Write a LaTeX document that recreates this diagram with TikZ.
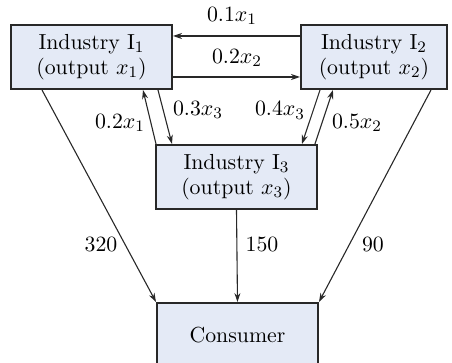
\documentclass[tikz,border=0pt]{standalone}
\usetikzlibrary{arrows.meta,calc}
\definecolor{boxfill}{RGB}{228,234,246}
\definecolor{boxline}{RGB}{40,40,40}
\newcommand{\vx}[1]{$x_{#1}$}
\begin{document}
\begin{tikzpicture}[x=0.5pt,y=-0.5pt,
  font=\fontsize{10.9}{12.5}\selectfont,
  ind/.style={draw=boxline,line width=1pt,fill=boxfill,align=center,
    minimum width=80.5pt,minimum height=32pt,inner sep=0pt},
  flow/.style={draw=boxline,line width=0.55pt,-{Stealth[length=4.5pt,width=3pt]}},
  lbl/.style={inner sep=0pt}]
\useasboundingbox (0,0) rectangle (452,363);
\clip (0,0) rectangle (452,363);
\node[ind] (i1) at (91.5,57) {Industry I$_1$\\(output \vx{1})};
\node[ind,minimum width=73pt] (i2) at (374,57) {Industry I$_2$\\(output \vx{2})};
\node[ind] (i3) at (236.5,177) {Industry I$_3$\\(output \vx{3})};
\node[ind] (c) at (237.5,335) {Consumer};
% top exchanges
\draw[flow] ($(i2.north west)+(0,12)$) -- ($(i1.north east)+(0,12)$);
\draw[flow] ($(i1.north east)+(0,53)$) -- ($(i2.north west)+(0,53)$);
% I1 <-> I3
\draw[flow] ($(i3.north west)+(1,0)$) -- ($(i1.south west)+(133,0)$);
\draw[flow] ($(i1.south west)+(148,0)$) -- ($(i3.north west)+(17,0)$);
% I2 <-> I3
\draw[flow] ($(i2.south west)+(20,0)$) -- ($(i3.north west)+(147,0)$);
\draw[flow] ($(i3.north west)+(160,0)$) -- ($(i2.south west)+(33,0)$);
% to consumer
\draw[flow] ($(i1.south west)+(32,0)$) -- (c.north west);
\draw[flow] (i3.south) -- (c.north);
\draw[flow] ($(i2.south west)+(131,0)$) -- (c.north east);
% labels
\node[lbl] (l1) at (232,16) {0.1\vx{1}};
\node[lbl] (l2) at (237,58) {0.2\vx{2}};
\node[lbl] (l3) at (120,123) {0.2\vx{1}};
\node[lbl] (l4) at (198,110) {0.3\vx{3}};
\node[lbl] (l5) at (280,110) {0.4\vx{3}};
\node[lbl] (l6) at (357,123) {0.5\vx{2}};
\node[lbl] (l7) at (101,244) {320};
\node[lbl] (l8) at (262,244) {150};
\node[lbl] (l9) at (373,244) {90};
\end{tikzpicture}
\end{document}
